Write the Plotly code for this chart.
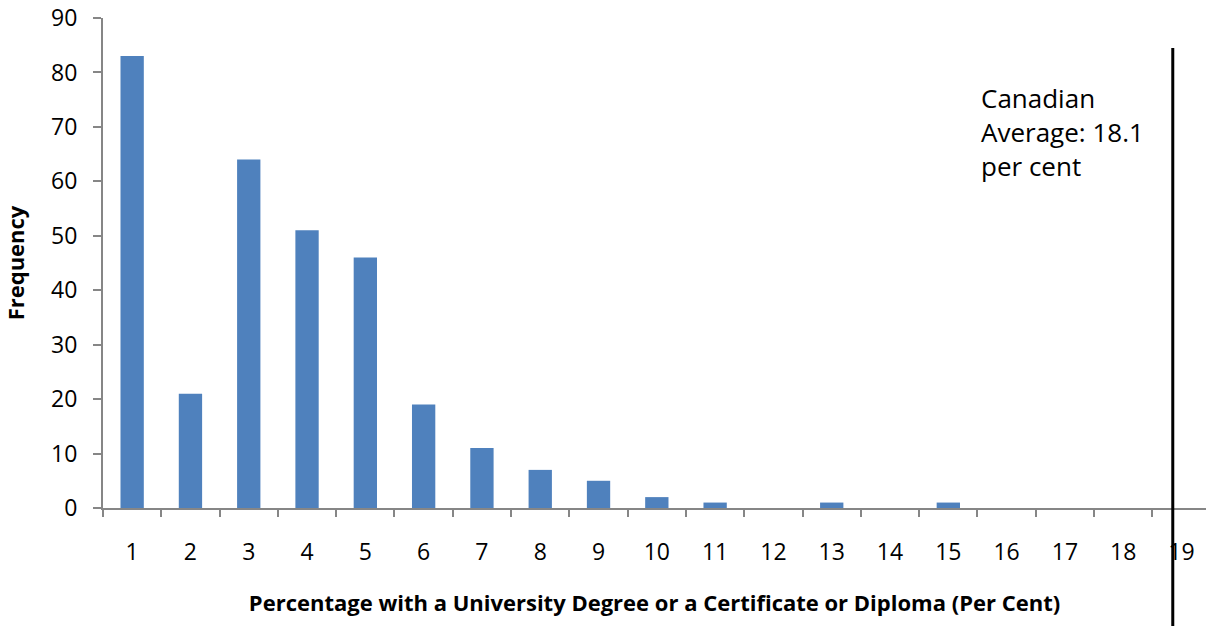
import plotly.graph_objects as go

categories = [str(i) for i in range(1, 20)]
frequency = [83, 21, 64, 51, 46, 19, 11, 7, 5, 2, 1, 0, 1, 0, 1, 0, 0, 0, 0]
y_ticks = [0, 10, 20, 30, 40, 50, 60, 70, 80, 90]
avg_line_pos = 18.85  # position of the Canadian-average marker on the category scale (1-based)
avg_label = "Canadian<br>Average: 18.1<br>per cent"

FONT = "Open Sans"

fig = go.Figure()
fig.add_trace(go.Bar(
    x=categories, y=frequency,
    marker=dict(color="#4F81BD", line=dict(width=0)),
    showlegend=False,
))

fig.add_shape(type="line", xref="x", yref="paper",
              x0=avg_line_pos - 1, x1=avg_line_pos - 1, y0=-0.245, y1=0.939,
              line=dict(color="black", width=3))

fig.add_annotation(xref="x", yref="paper", x=14.52, y=0.878,
                   text=avg_label, showarrow=False, xanchor="left", yanchor="top",
                   align="left", font=dict(family=FONT, size=26, color="black"))

fig.update_layout(
    width=1206, height=626,
    margin=dict(l=103, r=0, t=18, b=118),
    paper_bgcolor="white", plot_bgcolor="white",
    bargap=0.6,
    font=dict(family=FONT, color="black"),
)
fig.update_xaxes(
    type="category", range=[-0.5, 18.42],
    tickson="boundaries", ticks="outside", ticklen=7, tickwidth=2, tickcolor="#868686",
    showline=True, linecolor="#868686", linewidth=2,
    showgrid=False, zeroline=False,
    tickfont=dict(family=FONT, size=23, color="black"),
    ticklabelstandoff=22,
    title=dict(text="<b>Percentage with a University Degree or a Certificate or Diploma (Per Cent)</b>",
               font=dict(family=FONT, size=22, color="black"), standoff=30),
    automargin=False,
)
fig.update_yaxes(
    range=[0, 90], tickvals=y_ticks,
    ticks="outside", ticklen=8, tickwidth=2, tickcolor="#868686",
    showline=True, linecolor="#868686", linewidth=2,
    showgrid=False, zeroline=False,
    tickfont=dict(family=FONT, size=23, color="black"),
    ticklabelstandoff=11,
    title=dict(text="<b>Frequency</b>", font=dict(family=FONT, size=22, color="black"), standoff=21),
    automargin=False,
)

fig.write_html("out.html")
